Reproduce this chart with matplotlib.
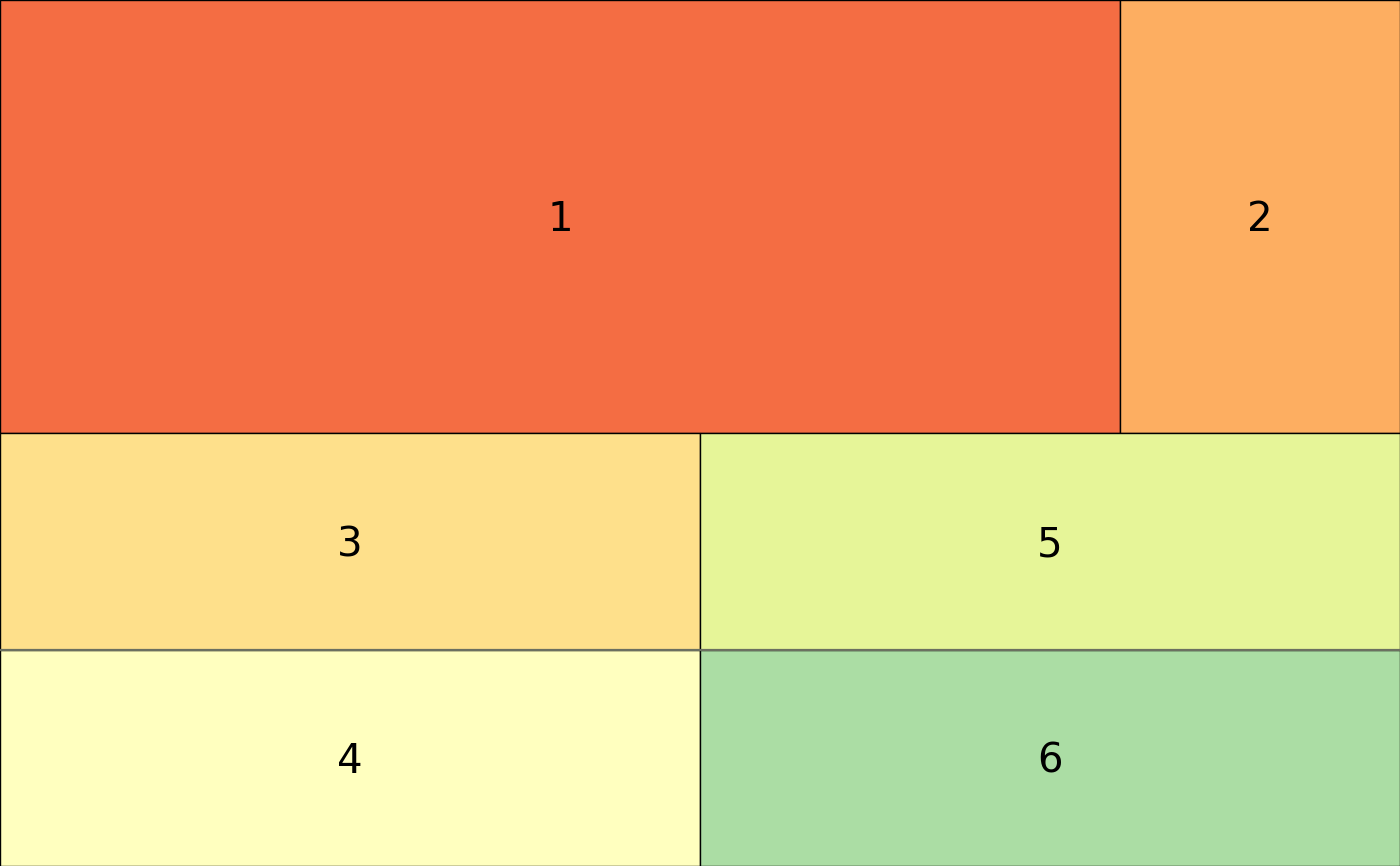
import matplotlib
matplotlib.use("Agg")
import matplotlib.pyplot as plt
from matplotlib.patches import Rectangle

labels = ["1", "2", "3", "4", "5", "6"]
values = [16, 4, 5, 5, 5, 5]
colors = ["#F46D43", "#FDAE61", "#FEE08B", "#FFFFBF", "#E6F598", "#ABDDA4"]

# grouping of the treemap layout: top row, then two columns in the bottom part
top_row = [0, 1]
bottom_cols = [[2, 3], [4, 5]]

total = sum(values)
fig = plt.figure(figsize=(14, 8.66), dpi=100)
ax = fig.add_axes([0, 0, 1, 1])
ax.set_xlim(0, 1)
ax.set_ylim(0, 1)
ax.axis("off")

rects = {}
top_sum = sum(values[i] for i in top_row)
top_h = top_sum / total
x = 0.0
for i in top_row:
    w = values[i] / top_sum
    rects[i] = (x, 1 - top_h, w, top_h)
    x += w

bottom_sum = total - top_sum
bottom_h = 1 - top_h
x = 0.0
for col in bottom_cols:
    csum = sum(values[i] for i in col)
    w = csum / bottom_sum
    y = bottom_h
    for i in col:
        h = bottom_h * values[i] / csum
        y -= h
        rects[i] = (x, y, w, h)
    x += w

for i, (x0, y0, w, h) in rects.items():
    ax.add_patch(Rectangle((x0, y0), w, h, facecolor=colors[i],
                           edgecolor="black", linewidth=1.0))
    ax.text(x0 + w / 2, y0 + h / 2 - 0.0045, labels[i], ha="center", va="center",
            fontsize=29, color="black", family="DejaVu Sans")

# softer separators inside the bottom columns
for col in bottom_cols:
    upper = rects[col[0]]
    ax.plot([upper[0], upper[0] + upper[2]], [upper[1], upper[1]],
            color="#6b7060", linewidth=1.6, solid_capstyle="butt")

fig.savefig("out.png", dpi=100)
